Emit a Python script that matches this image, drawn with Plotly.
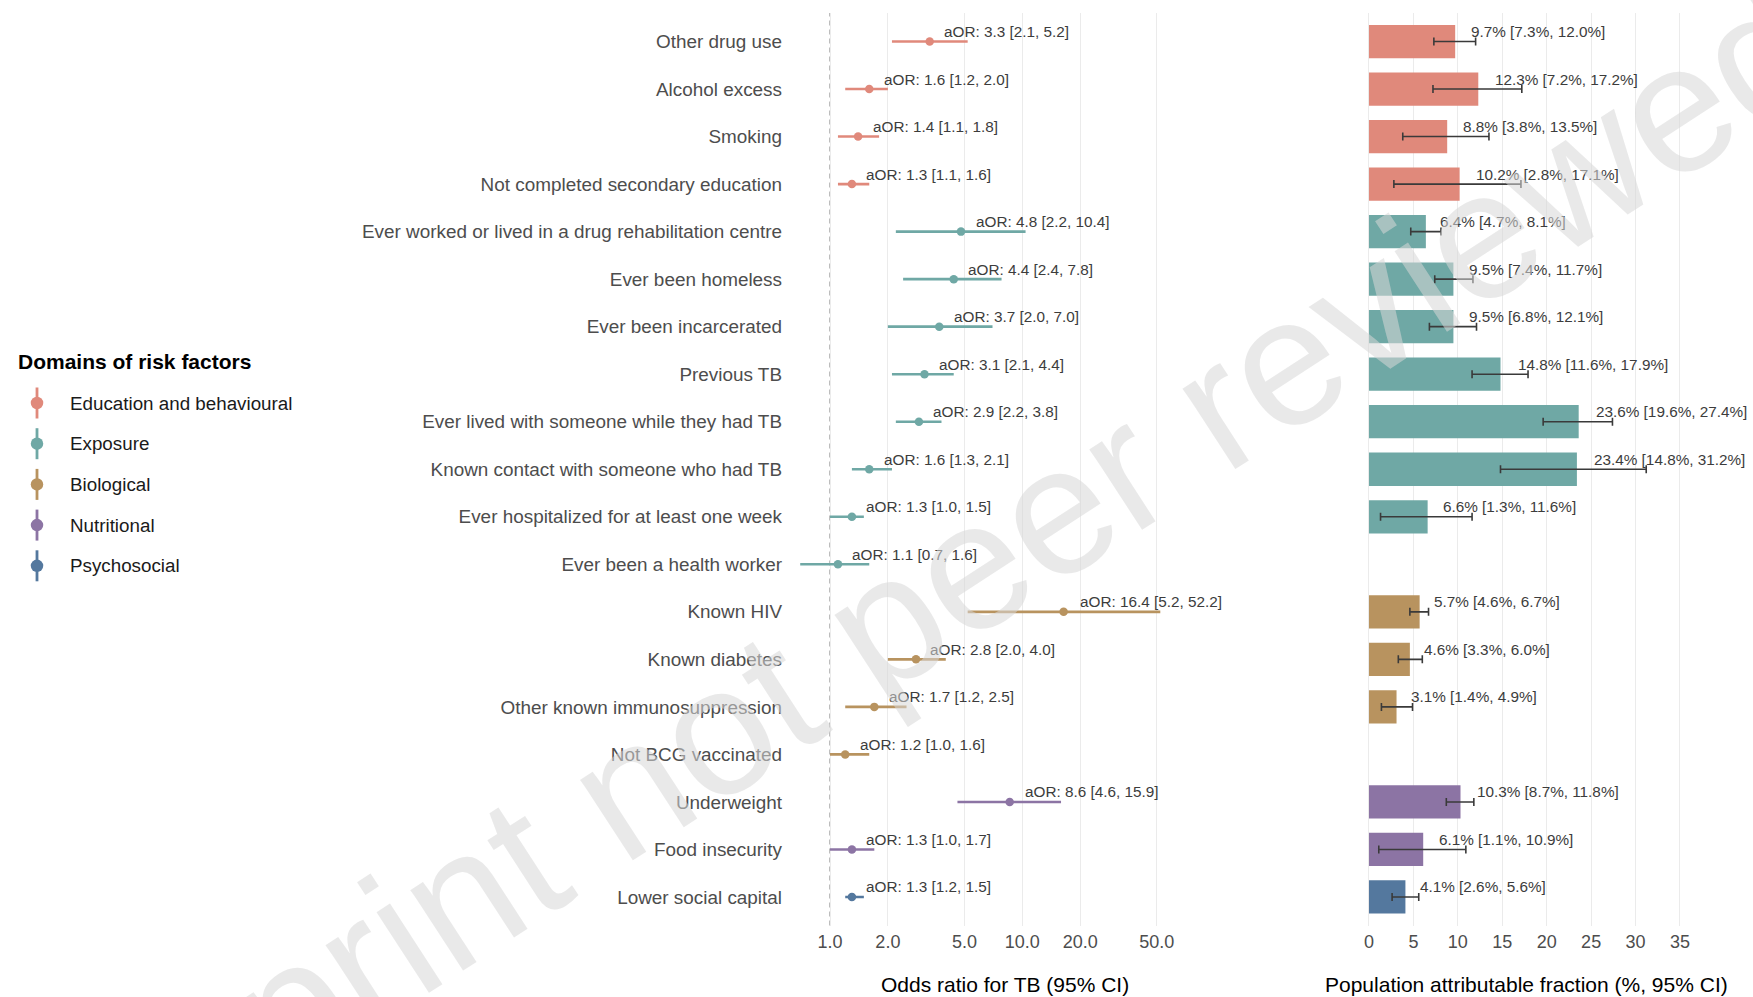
import math
import plotly.graph_objects as go

# ---- data -------------------------------------------------------------
factors = [
    "Other drug use",
    "Alcohol excess",
    "Smoking",
    "Not completed secondary education",
    "Ever worked or lived in a drug rehabilitation centre",
    "Ever been homeless",
    "Ever been incarcerated",
    "Previous TB",
    "Ever lived with someone while they had TB",
    "Known contact with someone who had TB",
    "Ever hospitalized for at least one week",
    "Ever been a health worker",
    "Known HIV",
    "Known diabetes",
    "Other known immunosuppression",
    "Not BCG vaccinated",
    "Underweight",
    "Food insecurity",
    "Lower social capital",
]
factor_domain = (
    ["Education and behavioural"] * 4
    + ["Exposure"] * 8
    + ["Biological"] * 4
    + ["Nutritional"] * 2
    + ["Psychosocial"]
)
aor = [3.3, 1.6, 1.4, 1.3, 4.8, 4.4, 3.7, 3.1, 2.9, 1.6, 1.3, 1.1, 16.4, 2.8, 1.7, 1.2, 8.6, 1.3, 1.3]
aor_lo = [2.1, 1.2, 1.1, 1.1, 2.2, 2.4, 2.0, 2.1, 2.2, 1.3, 1.0, 0.7, 5.2, 2.0, 1.2, 1.0, 4.6, 1.0, 1.2]
aor_hi = [5.2, 2.0, 1.8, 1.6, 10.4, 7.8, 7.0, 4.4, 3.8, 2.1, 1.5, 1.6, 52.2, 4.0, 2.5, 1.6, 15.9, 1.7, 1.5]
paf = [9.7, 12.3, 8.8, 10.2, 6.4, 9.5, 9.5, 14.8, 23.6, 23.4, 6.6, None, 5.7, 4.6, 3.1, None, 10.3, 6.1, 4.1]
paf_lo = [7.3, 7.2, 3.8, 2.8, 4.7, 7.4, 6.8, 11.6, 19.6, 14.8, 1.3, None, 4.6, 3.3, 1.4, None, 8.7, 1.1, 2.6]
paf_hi = [12.0, 17.2, 13.5, 17.1, 8.1, 11.7, 12.1, 17.9, 27.4, 31.2, 11.6, None, 6.7, 6.0, 4.9, None, 11.8, 10.9, 5.6]

domains = ["Education and behavioural", "Exposure", "Biological", "Nutritional", "Psychosocial"]
domain_colors = {
    "Education and behavioural": "#E0897B",
    "Exposure": "#6FA8A5",
    "Biological": "#B8935F",
    "Nutritional": "#8C74A4",
    "Psychosocial": "#54789E",
}
or_ticks = [1, 2, 5, 10, 20, 50]
or_ticktext = ["1.0", "2.0", "5.0", "10.0", "20.0", "50.0"]
paf_ticks = [0, 5, 10, 15, 20, 25, 30, 35]

# ---- page geometry ------------------------------------------------------
W, H = 1753, 997
FONT = "Liberation Sans, Arial, Helvetica, sans-serif"
TEXT_GREY = "#4D4D4D"
GRID = "#EBEBEB"


def fx(p):
    return p / W


def fy(p):
    return 1 - p / H


panel_top, panel_bottom = 13.0, 925.5
ydom = [fy(panel_bottom), fy(panel_top)]
n = len(factors)
yrange = [n - 0.4, -0.6]

# Arial advance widths (em) for the label strings, used for a -0.1 hjust offset
_ARIAL = {c: 0.556 for c in "0123456789a"}
_ARIAL.update({".": 0.278, ",": 0.278, " ": 0.278, "[": 0.278, "]": 0.278,
               "%": 0.889, "O": 0.778, "R": 0.722, ":": 0.278})


def hjust_offset(s, size):
    return 0.1 * size * sum(_ARIAL.get(c, 0.55) for c in s)


LABEL_SIZE = 15.3

fig = go.Figure()

# ---- forest plot of adjusted odds ratios -------------------------------
for dom in domains:
    idx = [i for i, d in enumerate(factor_domain) if d == dom]
    col = domain_colors[dom]
    fig.add_trace(go.Scatter(
        x=[aor[i] for i in idx],
        y=[factors[i] for i in idx],
        mode="markers",
        marker=dict(color=col, size=8.5, line=dict(width=0)),
        error_x=dict(
            type="data", symmetric=False,
            array=[aor_hi[i] - aor[i] for i in idx],
            arrayminus=[aor[i] - aor_lo[i] for i in idx],
            color=col, thickness=2.6, width=0,
        ),
        xaxis="x", yaxis="y", showlegend=False, hoverinfo="skip",
    ))

# ---- population attributable fraction bars -----------------------------
fig.add_trace(go.Bar(
    x=paf, y=factors, orientation="h", width=0.7,
    marker=dict(color=[domain_colors[d] for d in factor_domain], line=dict(width=0)),
    error_x=dict(
        type="data", symmetric=False,
        array=[None if p is None else h - p for p, h in zip(paf, paf_hi)],
        arrayminus=[None if p is None else p - l for p, l in zip(paf, paf_lo)],
        color="#3A3A3A", thickness=1.6, width=4,
    ),
    xaxis="x2", yaxis="y2", showlegend=False, hoverinfo="skip",
))

annotations = []
for i, f in enumerate(factors):
    t = f"aOR: {aor[i]:.1f} [{aor_lo[i]:.1f}, {aor_hi[i]:.1f}]"
    annotations.append(dict(
        x=math.log10(aor[i]), y=f, xref="x", yref="y", text=t, showarrow=False,
        xanchor="left", yanchor="middle", xshift=hjust_offset(t, LABEL_SIZE), yshift=10,
        font=dict(family=FONT, size=LABEL_SIZE, color="#3C3C3C"),
    ))
    if paf[i] is not None:
        t = f"{paf[i]:.1f}% [{paf_lo[i]:.1f}%, {paf_hi[i]:.1f}%]"
        annotations.append(dict(
            x=paf[i], y=f, xref="x2", yref="y2", text=t, showarrow=False,
            xanchor="left", yanchor="middle", xshift=hjust_offset(t, LABEL_SIZE), yshift=10,
            font=dict(family=FONT, size=LABEL_SIZE, color="#3C3C3C"),
        ))

# axis titles
annotations.append(dict(
    x=fx(1005), y=fy(984), xref="paper", yref="paper", showarrow=False,
    text="Odds ratio for TB (95% CI)", xanchor="center", yanchor="middle",
    font=dict(family=FONT, size=21, color="#000000"),
))
annotations.append(dict(
    x=fx(1526), y=fy(984), xref="paper", yref="paper", showarrow=False,
    text="Population attributable fraction (%, 95% CI)", xanchor="center", yanchor="middle",
    font=dict(family=FONT, size=21, color="#000000"),
))

# ---- legend drawn as point-range keys ----------------------------------
leg_x, leg_text_x, leg_top, leg_step = 37, 68, 403, 40.7
annotations.append(dict(
    x=16, y=361, xref="x3", yref="y3", showarrow=False, text="<b>Domains of risk factors</b>",
    xanchor="left", yanchor="middle", font=dict(family=FONT, size=21, color="#000000"),
))
for k, dom in enumerate(domains):
    yk = leg_top + k * leg_step
    fig.add_trace(go.Scatter(
        x=[leg_x], y=[yk], mode="markers",
        marker=dict(color=domain_colors[dom], size=12.5, line=dict(width=0)),
        error_y=dict(type="constant", value=15.5, color=domain_colors[dom], thickness=2.8, width=0),
        xaxis="x3", yaxis="y3", showlegend=False, hoverinfo="skip",
    ))
    annotations.append(dict(
        x=leg_text_x, y=yk, xref="x3", yref="y3", showarrow=False, text=dom,
        xanchor="left", yanchor="middle", font=dict(family=FONT, size=18.8, color="#1A1A1A"),
    ))

# watermark stamp across the page
annotations.append(dict(
    x=fx(906), y=fy(608), xref="paper", yref="paper", showarrow=False,
    text="Preprint not peer reviewed", textangle=-33,
    xanchor="center", yanchor="middle",
    font=dict(family=FONT, size=182, color="rgba(215,215,215,0.55)"),
))

fig.update_layout(
    width=W, height=H,
    margin=dict(l=0, r=0, t=0, b=0),
    paper_bgcolor="white", plot_bgcolor="white",
    template="none",
    showlegend=False,
    barmode="overlay",
    font=dict(family=FONT, color=TEXT_GREY),
    xaxis=dict(
        type="log", domain=[fx(783), fx(1227)],
        range=[-0.2444, 2.0645],
        tickvals=or_ticks, ticktext=or_ticktext,
        showgrid=True, gridcolor=GRID, gridwidth=1.1,
        zeroline=False, showline=False, ticks="", ticklabelstandoff=3,
        tickfont=dict(family=FONT, size=18, color=TEXT_GREY),
        anchor="y", automargin=False,
    ),
    yaxis=dict(
        domain=ydom, type="category",
        categoryorder="array", categoryarray=factors, range=yrange,
        showgrid=False, zeroline=False, showline=False, ticks="",
        tickfont=dict(family=FONT, size=18.9, color=TEXT_GREY),
        anchor="x", automargin=False,
    ),
    xaxis2=dict(
        domain=[fx(1353), fx(1699)], range=[-1.8, 37.14],
        tickvals=paf_ticks,
        showgrid=True, gridcolor=GRID, gridwidth=1.1,
        zeroline=False, showline=False, ticks="", ticklabelstandoff=3,
        tickfont=dict(family=FONT, size=18, color=TEXT_GREY),
        anchor="y2", automargin=False,
    ),
    yaxis2=dict(
        domain=ydom, type="category",
        categoryorder="array", categoryarray=factors, range=yrange,
        showgrid=False, zeroline=False, showline=False, ticks="",
        showticklabels=False, anchor="x2", automargin=False,
    ),
    xaxis3=dict(domain=[0, fx(300)], range=[0, 300], visible=False, fixedrange=True),
    yaxis3=dict(domain=[0, 1], range=[H, 0], visible=False, anchor="x3", fixedrange=True),
    shapes=[dict(
        type="line", xref="x", yref="y domain", x0=1, x1=1, y0=0, y1=1,
        line=dict(color="#9A9A9A", width=1.3, dash="5px,4px"), layer="below",
    )],
    annotations=annotations,
)

fig.write_html("out.html")
